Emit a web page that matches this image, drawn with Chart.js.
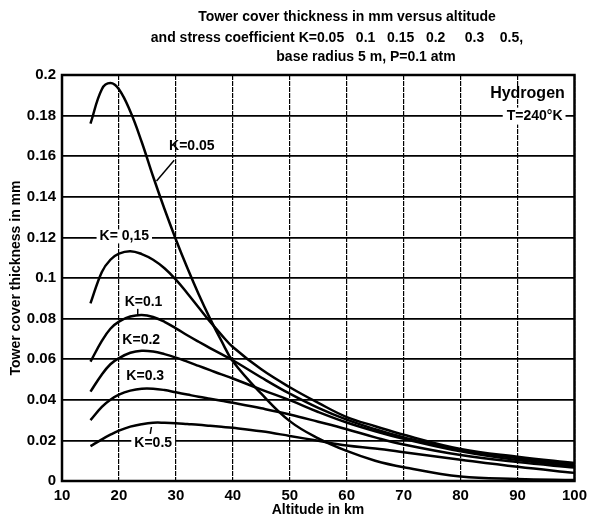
<!DOCTYPE html>
<html>
<head>
<meta charset="utf-8">
<script src="https://cdn.jsdelivr.net/npm/chart.js@4"></script>
<style>
  body { margin: 0; background: #fff; }
</style>
</head>
<body>
<canvas id="towerChart" width="593" height="522"></canvas>
<script>
        // 1. Data (altitude in km, thickness in mm)
        const altitude = [15, 17, 18.5, 20, 22, 24, 26, 28, 30, 32, 34, 36, 38, 40, 45, 50, 55, 60, 65, 70, 80, 90, 100];
        const thickK005 = [0.176, 0.193, 0.196, 0.193, 0.182, 0.167, 0.150, 0.134, 0.119, 0.105, 0.092, 0.080, 0.069, 0.059, 0.043, 0.0295, 0.021, 0.0148, 0.010, 0.0068, 0.0022, 0.001, 0.0005];
        const thickK015 = [0.0875, 0.103, 0.109, 0.112, 0.1132, 0.1118, 0.109, 0.1048, 0.0992, 0.0925, 0.0855, 0.0785, 0.072, 0.066, 0.055, 0.0462, 0.0385, 0.0315, 0.027, 0.0228, 0.0158, 0.012, 0.0089];
        const thickK01 = [0.0588, 0.069, 0.075, 0.0785, 0.081, 0.0818, 0.0808, 0.0784, 0.0752, 0.0718, 0.0686, 0.0655, 0.0625, 0.0595, 0.051, 0.043, 0.036, 0.0302, 0.0255, 0.0215, 0.0152, 0.0112, 0.008];
        const thickK02 = [0.044, 0.0525, 0.0575, 0.0605, 0.0632, 0.0642, 0.0638, 0.0625, 0.0608, 0.0588, 0.0567, 0.0546, 0.0525, 0.0505, 0.045, 0.0398, 0.034, 0.0288, 0.0245, 0.0208, 0.0146, 0.0103, 0.0072];
        const thickK03 = [0.030, 0.0365, 0.040, 0.0425, 0.0445, 0.0455, 0.0455, 0.0448, 0.0437, 0.0426, 0.0415, 0.0405, 0.0395, 0.0385, 0.0358, 0.0328, 0.0292, 0.0255, 0.0215, 0.018, 0.0128, 0.0093, 0.0066];
        const thickK05 = [0.0172, 0.0205, 0.0228, 0.0248, 0.0268, 0.028, 0.0287, 0.0287, 0.0285, 0.0281, 0.0277, 0.0272, 0.0267, 0.0262, 0.0245, 0.0222, 0.0198, 0.0175, 0.016, 0.0142, 0.0105, 0.007, 0.004];
        const seriesNames = ['K=0.05', 'K=0.15', 'K=0.1', 'K=0.2', 'K=0.3', 'K=0.5'];
        const yTickLabels = ['0', '0.02', '0.04', '0.06', '0.08', '0.1', '0.12', '0.14', '0.16', '0.18', '0.2'];
        const xTickLabels = ['10', '20', '30', '40', '50', '60', '70', '80', '90', '100'];

        const titleLines = [
            'Tower cover thickness in mm versus altitude',
            'and stress coefficient K=0.05   0.1   0.15   0.2     0.3    0.5,',
            'base radius 5 m, P=0.1 atm'
        ];

        // curve labels, positioned in data units (km, mm)
        const curveLabels = [
            { text: 'K=0.05', x: 28.8, y: 0.165, bg: false, leader: [26.6, 0.1478, 29.7, 0.158] },
            { text: 'K= 0,15', x: 16.6, y: 0.1205, bg: true },
            { text: 'K=0.1', x: 21.0, y: 0.088, bg: false, leader: [23.3, 0.0848, 23.3, 0.0818] },
            { text: 'K=0.2', x: 20.6, y: 0.0695, bg: false },
            { text: 'K=0.3', x: 21.3, y: 0.0517, bg: false },
            { text: 'K=0.5', x: 22.7, y: 0.0187, bg: true, leader: [25.7, 0.0266, 25.5, 0.0232] }
        ];

        const FONT = "'Liberation Sans', Arial, sans-serif";
        Chart.defaults.font.family = FONT;
        Chart.defaults.color = '#000';

        const toPoints = (ys) => ys.map((y, i) => ({ x: altitude[i], y: y }));
        const allSeries = [thickK005, thickK015, thickK01, thickK02, thickK03, thickK05];

        // 2. Plugin for the frame, titles and curve labels
        const annotatePlugin = {
            id: 'annotate',
            afterDraw: (chart) => {
                const { ctx, chartArea: a, scales } = chart;
                const sx = scales.x, sy = scales.y;
                ctx.save();

                // frame
                ctx.strokeStyle = '#000';
                ctx.lineWidth = 2.5;
                ctx.strokeRect(a.left, a.top, a.right - a.left, a.bottom - a.top);

                // title
                ctx.fillStyle = '#000';
                ctx.font = 'bold 14px ' + FONT;
                ctx.textAlign = 'center';
                ctx.textBaseline = 'middle';
                ctx.fillText(titleLines[0], 347, 17);
                ctx.fillText(titleLines[1], 337, 38);
                ctx.fillText(titleLines[2], 366, 57);

                // axis titles
                ctx.font = 'bold 14px ' + FONT;
                ctx.fillText('Altitude in km', 318, 510);
                ctx.save();
                ctx.translate(16, (a.top + a.bottom) / 2);
                ctx.rotate(-Math.PI / 2);
                ctx.fillText('Tower cover thickness in mm', 0, 0);
                ctx.restore();

                // curve labels
                ctx.font = 'bold 14px ' + FONT;
                ctx.textAlign = 'left';
                curveLabels.forEach(l => {
                    const px = sx.getPixelForValue(l.x);
                    const py = sy.getPixelForValue(l.y);
                    const w = ctx.measureText(l.text).width;
                    if (l.bg) {
                        ctx.fillStyle = '#fff';
                        ctx.fillRect(px - 3, py - 7, w + 6, 14);
                    }
                    ctx.fillStyle = '#000';
                    ctx.fillText(l.text, px, py);
                    if (l.leader) {
                        ctx.lineWidth = 1.5;
                        ctx.beginPath();
                        ctx.moveTo(sx.getPixelForValue(l.leader[0]), sy.getPixelForValue(l.leader[1]));
                        ctx.lineTo(sx.getPixelForValue(l.leader[2]), sy.getPixelForValue(l.leader[3]));
                        ctx.stroke();
                    }
                });

                // gas and temperature note
                ctx.textAlign = 'right';
                ctx.font = 'bold 16px ' + FONT;
                ctx.fillText('Hydrogen', sx.getPixelForValue(98.3), sy.getPixelForValue(0.191));
                ctx.font = 'bold 14px ' + FONT;
                const tText = 'T=240°K';
                const tx = sx.getPixelForValue(97.9), ty = sy.getPixelForValue(0.1795);
                const tw = ctx.measureText(tText).width;
                ctx.fillStyle = '#fff';
                ctx.fillRect(tx - tw - 4, ty - 9, tw + 7, 17);
                ctx.fillStyle = '#000';
                ctx.fillText(tText, tx, ty);

                ctx.restore();
            }
        };

        // 3. Chart
        const ctx = document.getElementById('towerChart').getContext('2d');
        new Chart(ctx, {
            type: 'line',
            data: {
                datasets: allSeries.map((ys, i) => ({
                    label: seriesNames[i],
                    data: toPoints(ys),
                    borderColor: '#000',
                    borderWidth: 2.5,
                    pointRadius: 0,
                    fill: false,
                    tension: 0.4
                }))
            },
            options: {
                responsive: false,
                animation: false,
                devicePixelRatio: 1,
                layout: { padding: { top: 75, right: 15, left: 0, bottom: 0 } },
                scales: {
                    x: {
                        type: 'linear',
                        min: 10, max: 100,
                        afterFit: (s) => { s.height = 41; },
                        ticks: {
                            stepSize: 10,
                            padding: 6,
                            font: { size: 15, weight: 'bold' },
                            callback: (v) => xTickLabels[Math.round((v - 10) / 10)]
                        },
                        grid: { color: '#000', lineWidth: 1.2, drawTicks: false },
                        border: { display: false, dash: [5, 1] }
                    },
                    y: {
                        min: 0, max: 0.2,
                        afterFit: (s) => { s.width = 62; },
                        ticks: {
                            stepSize: 0.02,
                            padding: 6,
                            font: { size: 15, weight: 'bold' },
                            callback: (v) => yTickLabels[Math.round(v / 0.02)]
                        },
                        grid: { color: '#000', lineWidth: 1.8, drawTicks: false },
                        border: { display: false }
                    }
                },
                plugins: { legend: { display: false }, tooltip: { enabled: false } }
            },
            plugins: [annotatePlugin]
        });
</script>
</body>
</html>
